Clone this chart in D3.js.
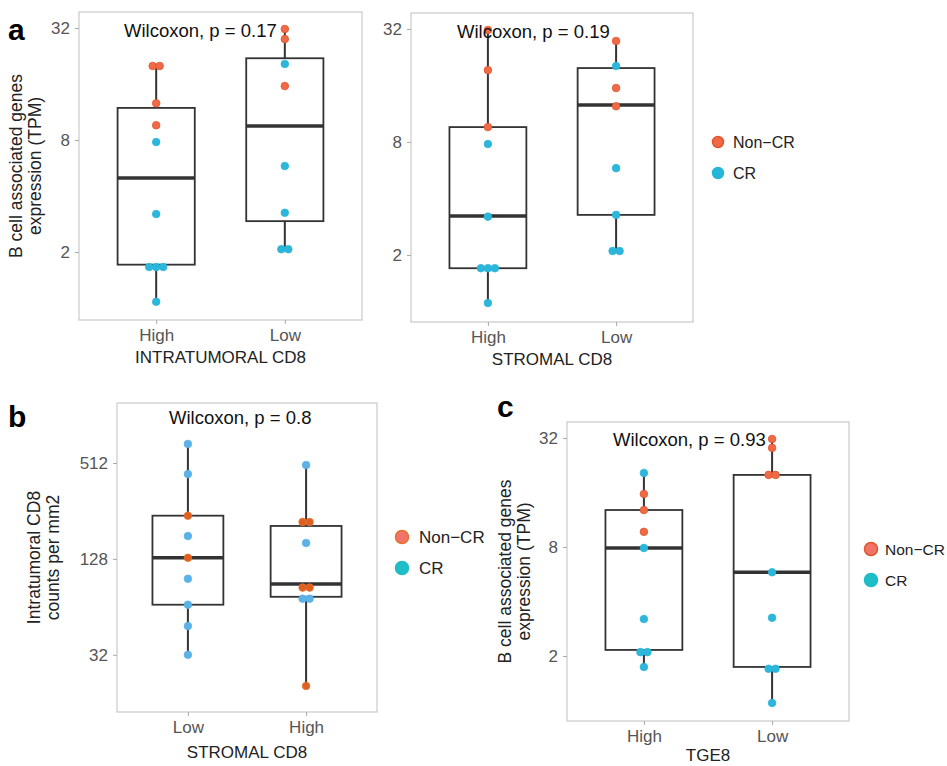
<!DOCTYPE html>
<html lang="en">
<head>
    <meta charset="utf-8">
    <title>B cell / CD8 boxplots</title>
    <script src="https://cdn.jsdelivr.net/npm/d3@7/dist/d3.min.js"></script>
    <style>
        body { margin: 0; background: #fff; }
        text { font-family: "Liberation Sans", Arial, Helvetica, sans-serif; }
    </style>
</head>
<body>
    <svg width="947" height="766"></svg>
    <script>
        // ---- data ----
        var tpmTicks = [2, 8, 32];
        var cd8Ticks = [32, 128, 512];
        var legendLabels = ["Non\u2212CR", "CR"];

        // panel a, left: INTRATUMORAL CD8
        var a1Cats = ["High", "Low"];
        var a1Points = [
            ["High", 20, "Non-CR"], ["High", 20, "Non-CR"], ["High", 12.6, "Non-CR"], ["High", 9.6, "Non-CR"],
            ["High", 7.8, "CR"], ["High", 3.2, "CR"], ["High", 1.66, "CR"], ["High", 1.66, "CR"], ["High", 1.66, "CR"], ["High", 1.08, "CR"],
            ["Low", 31.6, "Non-CR"], ["Low", 27.9, "Non-CR"], ["Low", 20.5, "CR"], ["Low", 15.6, "Non-CR"],
            ["Low", 5.8, "CR"], ["Low", 3.25, "CR"], ["Low", 2.07, "CR"], ["Low", 2.07, "CR"]
        ];
        // [lower whisker, q1, median, q3, upper whisker]
        var a1Boxes = [[1.08, 1.71, 5.0, 11.9, 20], [2.07, 2.93, 9.5, 22.0, 31.6]];

        // panel a, right: STROMAL CD8
        var a2Cats = ["High", "Low"];
        var a2Points = [
            ["High", 31.6, "Non-CR"], ["High", 19.3, "Non-CR"], ["High", 9.6, "Non-CR"], ["High", 7.8, "CR"],
            ["High", 3.2, "CR"], ["High", 1.7, "CR"], ["High", 1.7, "CR"], ["High", 1.7, "CR"], ["High", 1.11, "CR"],
            ["Low", 27.6, "Non-CR"], ["Low", 20.3, "CR"], ["Low", 15.5, "Non-CR"], ["Low", 12.4, "Non-CR"],
            ["Low", 5.8, "CR"], ["Low", 3.27, "CR"], ["Low", 2.1, "CR"], ["Low", 2.1, "CR"]
        ];
        var a2Boxes = [[1.11, 1.7, 3.23, 9.6, 31.6], [2.1, 3.27, 12.6, 19.8, 27.6]];

        // panel b: intratumoral counts by STROMAL CD8
        var bCats = ["Low", "High"];
        var bPoints = [
            ["Low", 674, "CR"], ["Low", 436, "CR"], ["Low", 239, "Non-CR"], ["Low", 178, "CR"], ["Low", 130, "Non-CR"],
            ["Low", 96, "CR"], ["Low", 66, "CR"], ["Low", 48.5, "CR"], ["Low", 32, "CR"],
            ["High", 497, "CR"], ["High", 218, "Non-CR"], ["High", 218, "Non-CR"], ["High", 161, "CR"],
            ["High", 84.5, "Non-CR"], ["High", 84.5, "Non-CR"], ["High", 72, "CR"], ["High", 72, "CR"], ["High", 20.4, "Non-CR"]
        ];
        var bBoxes = [[32, 66, 130, 239, 674], [20.4, 74, 89, 206, 497]];

        // panel c: TGE8
        var cCats = ["High", "Low"];
        var cPoints = [
            ["High", 20.5, "CR"], ["High", 15.7, "Non-CR"], ["High", 12.8, "Non-CR"], ["High", 9.7, "Non-CR"],
            ["High", 7.9, "CR"], ["High", 3.2, "CR"], ["High", 2.1, "CR"], ["High", 2.1, "CR"], ["High", 1.74, "CR"],
            ["Low", 31.6, "Non-CR"], ["Low", 28.2, "Non-CR"], ["Low", 20, "Non-CR"], ["Low", 20, "Non-CR"],
            ["Low", 5.8, "CR"], ["Low", 3.25, "CR"], ["Low", 1.7, "CR"], ["Low", 1.7, "CR"], ["Low", 1.1, "CR"]
        ];
        var cBoxes = [[1.74, 2.16, 7.9, 12.8, 20.5], [1.1, 1.74, 5.8, 20, 31.6]];

        var svg = d3.select("svg");

        function drawPanel(p) {
            var x = d3.scalePoint().domain(p.cats).range([p.left, p.right]).padding(0.6);
            var y = d3.scaleLog().base(2).domain(p.ydom).range([p.bottom, p.top]);
            var g = svg.append("g");
            var bw = x.step() * 0.6;

            // panel border
            g.append("rect")
                .attr("x", p.left).attr("y", p.top)
                .attr("width", p.right - p.left).attr("height", p.bottom - p.top)
                .attr("fill", "none").attr("stroke", "#cacaca").attr("stroke-width", 1.2);

            // axes
            var ya = g.append("g").attr("transform", "translate(" + p.left + ",0)")
                .call(d3.axisLeft(y).tickValues(p.ticks).tickFormat(d3.format("d")).tickSize(4).tickPadding(5));
            var xa = g.append("g").attr("transform", "translate(0," + p.bottom + ")")
                .call(d3.axisBottom(x).tickSize(4).tickPadding(5));
            [ya, xa].forEach(function (a) {
                a.select(".domain").remove();
                a.selectAll("line").attr("stroke", "#aaa");
                a.selectAll("text").attr("fill", "#555").style("font-size", "17px")
                    .style("font-family", "'Liberation Sans', Arial, sans-serif");
            });

            // boxes
            p.boxes.forEach(function (b, i) {
                var cx = x(p.cats[i]);
                g.append("line").attr("x1", cx).attr("x2", cx).attr("y1", y(b[0])).attr("y2", y(b[1]))
                    .attr("stroke", "#333").attr("stroke-width", 2);
                g.append("line").attr("x1", cx).attr("x2", cx).attr("y1", y(b[3])).attr("y2", y(b[4]))
                    .attr("stroke", "#333").attr("stroke-width", 2);
                g.append("rect").attr("x", cx - bw / 2).attr("y", y(b[3]))
                    .attr("width", bw).attr("height", y(b[1]) - y(b[3]))
                    .attr("fill", "none").attr("stroke", "#333").attr("stroke-width", 1.8);
                g.append("line").attr("x1", cx - bw / 2).attr("x2", cx + bw / 2)
                    .attr("y1", y(b[2])).attr("y2", y(b[2]))
                    .attr("stroke", "#333").attr("stroke-width", 3.5);
            });

            // dots, stacked sideways when equal
            var counts = {}, seen = {};
            p.points.forEach(function (d) { var k = d[0] + d[1]; counts[k] = (counts[k] || 0) + 1; });
            g.selectAll("circle.pt").data(p.points).enter().append("circle")
                .attr("class", "pt")
                .attr("cx", function (d) {
                    var k = d[0] + d[1];
                    var j = seen[k] || 0;
                    seen[k] = j + 1;
                    return x(d[0]) + (j - (counts[k] - 1) / 2) * 7;
                })
                .attr("cy", function (d) { return y(d[1]); })
                .attr("r", 3.8)
                .attr("fill", function (d) { return d[2] == "Non-CR" ? p.orange : p.blue; })
                .attr("stroke", function (d) { return d[2] == "Non-CR" ? p.orangeEdge : p.blue; })
                .attr("stroke-width", 0.8);

            // p-value label
            g.append("text").attr("x", p.pvX).attr("y", p.pvY)
                .style("font-size", "18.5px").attr("fill", "#111").text(p.pv);

            // x title
            g.append("text").attr("x", (p.left + p.right) / 2).attr("y", p.xtY)
                .attr("text-anchor", "middle").style("font-size", "17px").attr("fill", "#222").text(p.xtitle);

            // y title
            if (p.ytitle) {
                var yt = g.append("text")
                    .attr("transform", "translate(" + p.ytX + "," + ((p.top + p.bottom) / 2) + ") rotate(-90)")
                    .attr("text-anchor", "middle").style("font-size", "17.5px").attr("fill", "#222");
                yt.append("tspan").attr("x", 0).attr("dy", 0).text(p.ytitle[0]);
                yt.append("tspan").attr("x", 0).attr("dy", 19).text(p.ytitle[1]);
            }

            // legend
            if (p.legend) {
                var lg = g.append("g").attr("transform", "translate(" + p.legend[0] + "," + p.legend[1] + ")");
                legendLabels.forEach(function (lab, i) {
                    lg.append("circle").attr("cx", 0).attr("cy", i * 31).attr("r", p.legR)
                        .attr("fill", i == 0 ? p.legOrange : p.legBlue)
                        .attr("stroke", i == 0 ? p.orangeEdge : p.legBlue).attr("stroke-width", 1.5);
                    lg.append("text").attr("x", p.legGap).attr("y", i * 31 + 6)
                        .style("font-size", p.legFont).attr("fill", "#222").text(lab);
                });
            }

            // panel letter
            if (p.letter) {
                g.append("text").attr("x", p.letter[1]).attr("y", p.letter[2])
                    .style("font-size", "30px").style("font-weight", "bold").attr("fill", "#000").text(p.letter[0]);
            }
        }

        var tpmTitle = ["B cell associated genes", "expression (TPM)"];

        drawPanel({
            cats: a1Cats, points: a1Points, boxes: a1Boxes, ticks: tpmTicks,
            left: 79, right: 362, top: 12, bottom: 320, ydom: [0.862, 39.0],
            pv: "Wilcoxon, p = 0.17", pvX: 124, pvY: 37, xtitle: "INTRATUMORAL CD8", xtY: 363,
            ytitle: tpmTitle, ytX: 22, letter: ["a", 8, 40],
            orange: "#ef6a47", orangeEdge: "#e2552c", blue: "#2bb6da"
        });
        drawPanel({
            cats: a2Cats, points: a2Points, boxes: a2Boxes, ticks: tpmTicks,
            left: 411, right: 693, top: 13, bottom: 322, ydom: [0.879, 38.9],
            pv: "Wilcoxon, p = 0.19", pvX: 457, pvY: 38, xtitle: "STROMAL CD8", xtY: 365,
            legend: [718, 142], legR: 5.5, legGap: 15, legFont: "16px", legOrange: "#ef6a47", legBlue: "#24b6d6",
            orange: "#ef6a47", orangeEdge: "#e2552c", blue: "#2bb6da"
        });
        drawPanel({
            cats: bCats, points: bPoints, boxes: bBoxes, ticks: cd8Ticks,
            left: 117, right: 377, top: 403, bottom: 712, ydom: [14.0, 1218],
            pv: "Wilcoxon, p = 0.8", pvX: 169, pvY: 424, xtitle: "STROMAL CD8", xtY: 758,
            ytitle: ["Intratumoral CD8", "counts per mm2"], ytX: 40, letter: ["b", 8, 427],
            legend: [402, 537], legR: 6.5, legGap: 17, legFont: "17px", legOrange: "#f07468", legBlue: "#1fbdc6",
            orange: "#dd6020", orangeEdge: "#e8702e", blue: "#5bb2e6"
        });
        drawPanel({
            cats: cCats, points: cPoints, boxes: cBoxes, ticks: tpmTicks,
            left: 567, right: 849, top: 422, bottom: 721, ydom: [0.875, 39.2],
            pv: "Wilcoxon, p = 0.93", pvX: 613, pvY: 446, xtitle: "TGE8", xtY: 761,
            ytitle: tpmTitle, ytX: 511, letter: ["c", 497, 417],
            legend: [871, 549], legR: 6.5, legGap: 14, legFont: "15.5px", legOrange: "#f07468", legBlue: "#1fbdc6",
            orange: "#ef6a47", orangeEdge: "#e2552c", blue: "#2bb6da"
        });
    </script>
</body>
</html>
